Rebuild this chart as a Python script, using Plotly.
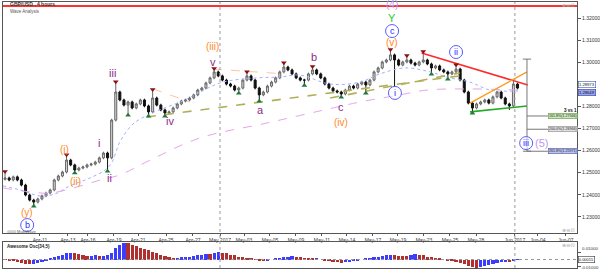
import plotly.graph_objects as go

# ---------------- data ----------------
closes = [
    1.2476, 1.2467, 1.2481, 1.2467, 1.2444, 1.2399, 1.2376, 1.2367, 1.2381, 1.2395,
    1.2408, 1.2422, 1.2467, 1.2485, 1.2503, 1.2557, 1.2535, 1.2512, 1.2521, 1.2526,
    1.2535, 1.2539, 1.2548, 1.2567, 1.2589, 1.2567, 1.2738, 1.2865, 1.2829, 1.2806,
    1.2820, 1.2793, 1.2811, 1.2829, 1.2802, 1.2775, 1.2838, 1.2806, 1.2784, 1.2770,
    1.2775, 1.2793, 1.2811, 1.2824, 1.2829, 1.2838, 1.2852, 1.2874, 1.2883, 1.2906,
    1.2929, 1.2956, 1.2938, 1.2919, 1.2901, 1.2892, 1.2874, 1.2883, 1.2919, 1.2938,
    1.2919, 1.2883, 1.2852, 1.2865, 1.2892, 1.2910, 1.2929, 1.2956, 1.2978, 1.2965,
    1.2947, 1.2929, 1.2919, 1.2919, 1.2947, 1.2965, 1.2947, 1.2929, 1.2901, 1.2883,
    1.2870, 1.2865, 1.2856, 1.2874, 1.2892, 1.2883, 1.2901, 1.2910, 1.2897, 1.2919,
    1.2956, 1.2974, 1.3001, 1.3010, 1.3033, 1.3010, 1.2987, 1.3001, 1.3010, 1.2996,
    1.2987, 1.3001, 1.3010, 1.2992, 1.2974, 1.2983, 1.2965, 1.2956, 1.2947, 1.2956,
    1.2969, 1.2919, 1.2865, 1.2815, 1.2793, 1.2811, 1.2820, 1.2829, 1.2815, 1.2843,
    1.2865, 1.2838, 1.2811, 1.2802, 1.2901, 1.2883,
]
first_open = 1.2470
wick = 0.0006
wick_highs = {0: 1.2499, 15: 1.2575, 27: 1.2906, 36: 1.2870, 51: 1.2965, 59: 1.2951,
              68: 1.2992, 75: 1.2974, 94: 1.3051, 98: 1.3024, 102: 1.3042, 110: 1.2983,
              124: 1.2919}
wick_lows = {7: 1.2354, 17: 1.2505, 25: 1.2512, 30: 1.2766, 35: 1.2761, 39: 1.2761,
             57: 1.2865, 62: 1.2829, 73: 1.2901, 82: 1.2847, 88: 1.2865, 95: 1.2888,
             104: 1.2951, 108: 1.2929, 114: 1.2775, 123: 1.2784}
fractal_up = [0, 15, 27, 36, 51, 59, 68, 75, 94, 98, 102, 110]
fractal_down = [7, 17, 25, 30, 35, 39, 57, 62, 73, 82, 88, 104, 108, 114]

ao = [
    -0.0005, -0.0010, -0.0020, -0.0030, -0.0045, -0.0060, -0.0070, -0.0065, -0.0050, -0.0030,
    -0.0010, 0.0010, 0.0030, 0.0050, 0.0070, 0.0090, 0.0100, 0.0090, 0.0080, 0.0060,
    0.0050, 0.0052, 0.0060, 0.0050, 0.0055, 0.0060, 0.0100, 0.0160, 0.0210, 0.0240,
    0.0230, 0.0210, 0.0190, 0.0170, 0.0150, 0.0130, 0.0110, 0.0090, 0.0070, 0.0050,
    0.0030, 0.0010, 0.0020, 0.0030, 0.0032, 0.0040, 0.0050, 0.0060, 0.0070, 0.0080,
    0.0078, 0.0095, 0.0105, 0.0100, 0.0090, 0.0070, 0.0060, 0.0040, 0.0030, 0.0020,
    0.0010, -0.0005, -0.0015, -0.0020, -0.0010, 0.0000, 0.0010, 0.0020, 0.0030, 0.0040,
    0.0045, 0.0040, 0.0030, 0.0020, 0.0015, 0.0010, 0.0015, 0.0000, -0.0010, -0.0020,
    -0.0030, -0.0040, -0.0045, -0.0040, -0.0030, -0.0020, -0.0010, 0.0000, 0.0010, 0.0020,
    0.0030, 0.0040, 0.0050, 0.0060, 0.0065, 0.0060, 0.0055, 0.0050, 0.0045, 0.0060,
    0.0080, 0.0070, 0.0060, 0.0040, 0.0030, 0.0020, 0.0010, 0.0000, -0.0010, -0.0020,
    -0.0030, -0.0050, -0.0070, -0.0090, -0.0105, -0.0115, -0.0110, -0.0095, -0.0080, -0.0065,
    -0.0050, -0.0040, -0.0030, -0.0032, -0.0010, 0.0002,
]

ma_fast_x = [-0.5, 3.7, 8.5, 12.2, 15.8, 20.7, 24.4, 26.1, 28.0, 31.2, 35.4, 39.5, 43.9,
             47.5, 53.2, 61.5, 67.1, 71.9, 79.3, 86.6, 91.4, 97.6, 103.7, 108.5, 113.4,
             118.3, 125.1]
ma_fast_y = [1.2440, 1.2422, 1.2395, 1.2404, 1.2440, 1.2476, 1.2512, 1.2548, 1.2639,
             1.2720, 1.2766, 1.2797, 1.2829, 1.2865, 1.2910, 1.2929, 1.2933, 1.2942,
             1.2901, 1.2910, 1.2947, 1.2974, 1.2956, 1.2929, 1.2910, 1.2874, 1.2870]
ma_slow_x = [-0.5, 6.1, 11.0, 17.5, 23.2, 28.0, 35.4, 47.5, 63.9, 80.0, 86.6, 96.3,
             102.9, 113.4, 125.1]
ma_slow_y = [1.2431, 1.2413, 1.2408, 1.2435, 1.2467, 1.2490, 1.2557, 1.2657, 1.2725,
             1.2793, 1.2820, 1.2852, 1.2874, 1.2879, 1.2874]

tick_idx = [8.52, 15.35, 20.23, 26.57, 32.43, 39.26, 45.84, 52.43, 58.28, 64.62, 70.96,
            77.30, 83.40, 89.74, 95.84, 102.18, 108.52, 114.87, 124.35, 129.96, 136.79]
tick_labels = ["Apr-11", "Apr-13", "Apr-16", "Apr-19", "Apr-21", "Apr-25", "Apr-27",
               "May 2017", "May-03", "May-05", "May-09", "May-11", "May-14", "May-17",
               "May-19", "May-23", "May-25", "May-28", "Jun 2017", "Jun-04", "Jun-07"]
month_lines = [52.43, 124.35]
shown_price_ticks = [1.23, 1.24, 1.25, 1.26, 1.27, 1.28, 1.30, 1.31, 1.32]
osc_ticks = [0.01, -0.01]

red_level = 1.3254
red_line_x, red_line_y = [101.6, 127.5], [1.3042, 1.2897]
orange_line_x, orange_line_y = [113.4, 127.3], [1.2815, 1.2956]
green_line_x, green_line_y = [113.4, 127.3], [1.2775, 1.2802]
olive1_x, olive1_y = [34.6, 110.9], [1.2752, 1.2938]
olive2_x, olive2_y = [79.3, 110.9], [1.2838, 1.2951]
peach1_x, peach1_y = [36.1, 45.1], [1.2879, 1.2820]
peach2_x, peach2_y = [50.7, 68.3], [1.2969, 1.2947]

fib_x = 127.3
fib_top = 1.3014
fib_levels = [1.27566, 1.26966, 1.25971]
fib_texts = ["161.8%(1.27566)", "200.0%(1.26966)", "261.8%(1.25971)"]
fib_bg = ["#cfe8bd", "#e2e2e2", "#bcc3ec"]
fib_border = ["#5a9a3a", "#888888", "#4a55b0"]
fib_label_x = 132.4

P, O, G, LP = "#8a2b8a", "#ff8a1f", "#2ecc2e", "#b999ee"
wave_labels = [
    ("iii", 26.3, 1.2951, P, 11), ("i", 22.9, 1.2634, P, 11), ("ii", 25.4, 1.2476, P, 11),
    ("iv", 40.2, 1.2734, P, 11), ("v", 50.7, 1.3001, P, 11), ("a", 62.4, 1.2784, P, 11),
    ("b", 75.4, 1.3024, P, 11), ("c", 81.9, 1.2797, P, 11),
    ("(iii)", 50.7, 1.3069, O, 10), ("(i)", 14.6, 1.2607, O, 10), ("(ii)", 17.1, 1.2458, O, 10),
    ("(y)", 5.4, 1.2322, O, 10), ("(iv)", 81.9, 1.2729, O, 10), ("(v)", 94.4, 1.3087, O, 10),
    ("Y", 94.4, 1.3200, G, 11), ("(4)", 94.4, 1.3259, LP, 10), ("(5)", 130.96, 1.2634, LP, 11),
]
circled = [("b", 5.4, 1.2263), ("c", 94.4, 1.3141), ("i", 95.1, 1.2861),
           ("ii", 110.0, 1.3046), ("iii", 127.1, 1.2634)]
price_boxes = [("1.28973", 1.2897, "#ffffff", "#3355aa"), ("1.28649", 1.2865, "#9aa4f0", "#3040a0")]
osc_zero_text = "0.00015"

# ---------------- build ----------------
n = len(closes)
idx = list(range(n))
opens = [first_open] + closes[:-1]
highs = [max(o, c) + wick for o, c in zip(opens, closes)]
lows = [min(o, c) - wick for o, c in zip(opens, closes)]
for k, v in wick_highs.items():
    highs[k] = v
for k, v in wick_lows.items():
    lows[k] = v

ao_colors = ["#b03030"] + ["#3c3cff" if ao[i] >= ao[i - 1] else "#b03030" for i in range(1, n)]

FONT = "Liberation Sans"
fig = go.Figure()

fig.add_trace(go.Scatter(x=ma_slow_x, y=ma_slow_y, mode="lines",
                         line=dict(color="#e6a6e6", width=1, dash="dash", shape="spline"),
                         hoverinfo="skip"))
fig.add_trace(go.Scatter(x=ma_fast_x, y=ma_fast_y, mode="lines",
                         line=dict(color="#9fb0ff", width=1, dash="dot", shape="spline"),
                         hoverinfo="skip"))
for lx, ly in [(peach1_x, peach1_y), (peach2_x, peach2_y)]:
    fig.add_trace(go.Scatter(x=lx, y=ly, mode="lines",
                             line=dict(color="#ffc4a0", width=1, dash="dash"), hoverinfo="skip"))

fig.add_trace(go.Candlestick(
    x=idx, open=opens, high=highs, low=lows, close=closes,
    increasing=dict(line=dict(color="#666666", width=1), fillcolor="#d6d6d6"),
    decreasing=dict(line=dict(color="#111111", width=1), fillcolor="#111111"),
    whiskerwidth=0, hoverinfo="skip"))

for lx, ly in [(olive1_x, olive1_y), (olive2_x, olive2_y)]:
    fig.add_trace(go.Scatter(x=lx, y=ly, mode="lines",
                             line=dict(color="#b0b05a", width=1.6, dash="dash"), hoverinfo="skip"))
fig.add_trace(go.Scatter(x=red_line_x, y=red_line_y, mode="lines",
                         line=dict(color="#ff2a2a", width=1.6), hoverinfo="skip"))
fig.add_trace(go.Scatter(x=orange_line_x, y=orange_line_y, mode="lines",
                         line=dict(color="#ff9a1a", width=1.3), hoverinfo="skip"))
fig.add_trace(go.Scatter(x=green_line_x, y=green_line_y, mode="lines",
                         line=dict(color="#22aa22", width=1.6), hoverinfo="skip"))

# fractal arrows
fig.add_trace(go.Scatter(x=fractal_up, y=[highs[i] + 0.0006 for i in fractal_up], mode="markers",
                         marker=dict(symbol="triangle-down", size=5, color="#8b1010"),
                         hoverinfo="skip"))
fig.add_trace(go.Scatter(x=fractal_down, y=[lows[i] - 0.0006 for i in fractal_down], mode="markers",
                         marker=dict(symbol="triangle-up", size=5, color="#1f7a3a"),
                         hoverinfo="skip"))

# fibonacci projection
fib_bottom = min(fib_levels)
fx = [fib_x, fib_x, None, fib_x - 1, fib_x + 1, None, fib_x - 1, fib_x + 1]
fy = [fib_top, fib_bottom, None, fib_top, fib_top, None, fib_bottom, fib_bottom]
for lv in fib_levels:
    fx += [None, fib_x, fib_label_x]
    fy += [None, lv, lv]
fig.add_trace(go.Scatter(x=fx, y=fy, mode="lines", line=dict(color="#777777", width=1),
                         hoverinfo="skip"))

# circles for circled labels
fig.add_trace(go.Scatter(x=[c[1] for c in circled], y=[c[2] for c in circled], mode="markers",
                         marker=dict(symbol="circle", size=13, color="rgba(255,255,255,0.6)",
                                     line=dict(color="#5a5aff", width=1)),
                         hoverinfo="skip"))

# awesome oscillator
fig.add_trace(go.Bar(x=idx, y=ao, marker=dict(color=ao_colors, line=dict(width=0)),
                     width=0.8, xaxis="x2", yaxis="y2", hoverinfo="skip"))

ann = []
for t, x, y, col, sz in wave_labels:
    ann.append(dict(text=t, x=x, y=y, xref="x", yref="y", showarrow=False,
                    xanchor="center", yanchor="middle", font=dict(family=FONT, size=sz, color=col)))
for t, x, y in circled:
    ann.append(dict(text=t, x=x, y=y, xref="x", yref="y", showarrow=False,
                    xanchor="center", yanchor="middle", font=dict(family=FONT, size=9, color="#2a2aff")))
for lv, t, bg, bc in zip(fib_levels, fib_texts, fib_bg, fib_border):
    ann.append(dict(text=t, x=fib_label_x, y=lv, xref="x", yref="y", showarrow=False,
                    xanchor="left", yanchor="middle", bgcolor=bg, bordercolor=bc, borderwidth=0.6,
                    borderpad=0.5, font=dict(family=FONT, size=3.6, color="#222")))
ann.append(dict(text="<b>3 vs 1</b>", x=fib_label_x + 5.5, y=1.2781, xref="x", yref="y",
                showarrow=False, xanchor="center", yanchor="middle",
                font=dict(family=FONT, size=4.5, color="#111")))
for t, lv, bg, bc in price_boxes:
    ann.append(dict(text=t, x=1.002, y=lv, xref="paper", yref="y", showarrow=False,
                    xanchor="left", yanchor="middle", bgcolor=bg, bordercolor=bc, borderwidth=0.6,
                    borderpad=0.3, font=dict(family=FONT, size=4.2, color="#111")))
# oscillator axis labels (as text so they stay inside the page and clear of the zero box)
ann.append(dict(text="%.5f" % osc_ticks[0], x=1.006, y=osc_ticks[0], xref="paper", yref="y2",
                showarrow=False, xanchor="left", yanchor="bottom",
                font=dict(family=FONT, size=4.4, color="#333")))
ann.append(dict(text="%.5f" % osc_ticks[1], x=1.003, y=-0.0056, xref="paper", yref="y2",
                showarrow=False, xanchor="left", yanchor="top",
                font=dict(family=FONT, size=4.4, color="#333")))
ann.append(dict(text=osc_zero_text, x=1.002, y=0, xref="paper", yref="y2", showarrow=False,
                xanchor="left", yanchor="middle", bgcolor="#ffffff", bordercolor="#333",
                borderwidth=0.6, borderpad=0.2, font=dict(family=FONT, size=4.0, color="#111")))
ann.append(dict(text="<b>GBP/USD , 4 hours</b>", x=0.009, y=0.993, xref="paper", yref="paper",
                showarrow=False, xanchor="left", yanchor="middle",
                font=dict(family=FONT, size=5, color="#333")))
ann.append(dict(text="Wave Analysis", x=0.009, y=0.966, xref="paper", yref="paper",
                showarrow=False, xanchor="left", yanchor="middle",
                font=dict(family=FONT, size=4.5, color="#555")))
ann.append(dict(text="<b>Awesome Osc(34,5)</b>", x=0.003, y=0.079, xref="paper", yref="paper",
                showarrow=False, xanchor="left", yanchor="middle",
                font=dict(family=FONT, size=4.5, color="#222")))
ann.append(dict(text="⊙⊙⊙ MultiWave", x=0.003, y=0.139, xref="paper", yref="paper",
                showarrow=False, xanchor="left", yanchor="middle",
                font=dict(family=FONT, size=4, color="#555")))
for yy in [0.989, 0.143, 0.088]:
    ann.append(dict(text="⊕⊖⊡", x=0.985, y=yy, xref="paper", yref="paper", showarrow=False,
                    xanchor="center", yanchor="middle", font=dict(family="DejaVu Sans", size=5, color="#aaa")))

shapes = [dict(type="line", xref="paper", x0=0, x1=1, yref="y", y0=red_level, y1=red_level,
               line=dict(color="#ff3030", width=2))]
for m in month_lines:
    shapes.append(dict(type="line", xref="x", x0=m, x1=m, yref="paper", y0=0, y1=1,
                       line=dict(color="#999999", width=1, dash="dot")))
shapes.append(dict(type="line", xref="paper", x0=0, x1=1, yref="y2", y0=0, y1=0,
                   line=dict(color="#999999", width=1, dash="dot")))

axis_common = dict(showgrid=False, zeroline=False, showline=True, mirror=True,
                   linecolor="#555555", linewidth=1, automargin=False)
fig.update_layout(
    width=600, height=271, margin=dict(l=3, r=23, t=2, b=3),
    paper_bgcolor="white", plot_bgcolor="white", showlegend=False,
    font=dict(family=FONT, size=5, color="#333"),
    xaxis=dict(domain=[0, 1], range=[-0.5, 139.5], anchor="y", tickvals=tick_idx,
               ticktext=tick_labels, ticks="outside", ticklen=2, tickcolor="#555",
               tickfont=dict(family=FONT, size=5, color="#333"),
               rangeslider=dict(visible=False), **axis_common),
    yaxis=dict(domain=[0.1316, 1], range=[1.22271, 1.32724], side="right",
               tickvals=shown_price_ticks, ticktext=["%.5f" % v for v in shown_price_ticks],
               ticks="outside", ticklen=3, tickcolor="#555",
               tickfont=dict(family=FONT, size=5, color="#333"), **axis_common),
    xaxis2=dict(domain=[0, 1], range=[-0.5, 139.5], anchor="y2", showticklabels=False,
                ticks="", **axis_common),
    yaxis2=dict(domain=[0, 0.0977], range=[-0.0121, 0.025], side="right",
                tickvals=osc_ticks, showticklabels=False, ticks="outside",
                ticklen=3, tickcolor="#555", **axis_common),
    annotations=ann, shapes=shapes, bargap=0,
)

fig.write_html("out.html")
